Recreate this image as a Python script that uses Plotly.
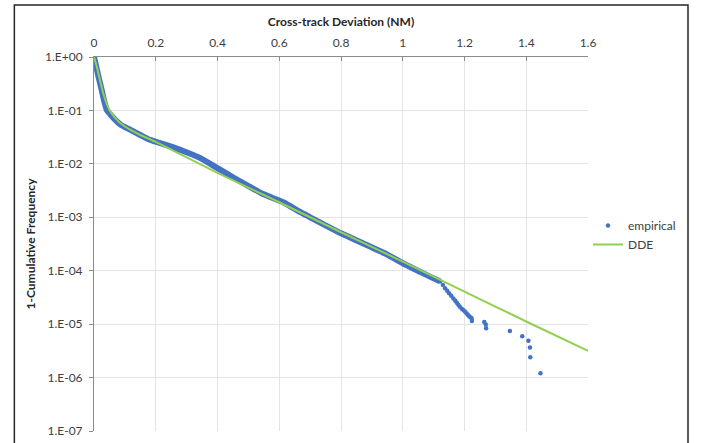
import plotly.graph_objects as go

# Cross-track deviation (NM) vs. exceedance probability
emp_body_x = [0.0, 0.008, 0.017, 0.025, 0.032, 0.042, 0.055, 0.068, 0.087, 0.117,
              0.15, 0.181, 0.24, 0.289, 0.34, 0.397, 0.45, 0.505, 0.55, 0.613,
              0.667, 0.70, 0.80, 0.883, 0.95, 1.0, 1.056, 1.088, 1.121]
emp_body_y = [1.0, 0.631, 0.372, 0.240, 0.158, 0.100, 0.0813, 0.0676, 0.0537, 0.0437,
              0.0347, 0.0282, 0.0219, 0.0174, 0.0132, 0.00851, 0.00562, 0.00372, 0.00269, 0.00191,
              0.00126, 0.00100, 5.01e-4, 3.02e-4, 2.00e-4, 1.38e-4, 9.55e-5, 7.76e-5, 6.31e-5]

emp_tail_x = [1.13, 1.137, 1.144, 1.15, 1.157, 1.164, 1.17, 1.175, 1.18, 1.185, 1.191,
              1.197, 1.202, 1.207, 1.211, 1.215, 1.219, 1.223, 1.224, 1.264, 1.269,
              1.270, 1.347, 1.387, 1.407, 1.412, 1.413, 1.446]
emp_tail_y = [5.4e-5, 4.68e-5, 4.2e-5, 3.80e-5, 3.4e-5, 3.02e-5, 2.75e-5, 2.51e-5, 2.3e-5, 2.11e-5, 1.95e-5,
              1.82e-5, 1.7e-5, 1.58e-5, 1.5e-5, 1.41e-5, 1.35e-5, 1.29e-5, 1.15e-5, 1.10e-5, 9.86e-6,
              8.41e-6, 7.41e-6, 5.96e-6, 4.90e-6, 3.66e-6, 2.40e-6, 1.20e-6]

dde_x = [0.0, 0.01, 0.02, 0.03, 0.04, 0.05, 0.06, 0.07, 0.08, 0.09, 0.10, 0.12, 0.15,
         0.2, 0.4, 0.6, 0.8, 1.0, 1.2, 1.4, 1.6]
dde_y = [1.0, 0.631, 0.355, 0.209, 0.138, 0.102, 0.0832, 0.0708, 0.0617, 0.0550, 0.0501,
         0.0427, 0.0347, 0.0257, 0.00676, 0.00191, 5.25e-4, 1.48e-4, 4.07e-5, 1.12e-5, 3.16e-6]

x_ticks = [0, 0.2, 0.4, 0.6, 0.8, 1.0, 1.2, 1.4, 1.6]
x_tick_text = ["0", "0.2", "0.4", "0.6", "0.8", "1", "1.2", "1.4", "1.6"]
y_ticks = [1e0, 1e-1, 1e-2, 1e-3, 1e-4, 1e-5, 1e-6, 1e-7]
y_tick_text = ["1.E+00", "1.E-01", "1.E-02", "1.E-03", "1.E-04", "1.E-05", "1.E-06", "1.E-07"]

BLUE = "#4472C4"
GREEN = "#92D050"
FONT = "Lato"

# page geometry (pixels)
W, H = 707, 443
FRAME_L, FRAME_T, FRAME_R = 13, 4, 688
PLOT_L, PLOT_R, PLOT_T, PLOT_B = 94, 588, 57, 431

fig = go.Figure()

# dense part of the empirical curve: overlapping points form a solid band
fig.add_trace(go.Scatter(
    x=emp_body_x, y=emp_body_y, mode="lines",
    line=dict(color=BLUE, width=6, shape="spline", smoothing=0.6),
    showlegend=False, legendgroup="emp", hoverinfo="skip"))

fig.add_trace(go.Scatter(
    x=emp_body_x + emp_tail_x, y=emp_body_y + emp_tail_y, mode="markers",
    marker=dict(color=BLUE, size=4.5), name="empirical", legendgroup="emp"))

fig.add_trace(go.Scatter(
    x=dde_x, y=dde_y, mode="lines",
    line=dict(color=GREEN, width=2, shape="spline", smoothing=0.6), name="DDE"))

# the paper area is the chart frame; the plot sits inside it via axis domains
pw = FRAME_R - FRAME_L
ph = H - FRAME_T
x_dom = [(PLOT_L - FRAME_L) / pw, (PLOT_R - FRAME_L) / pw]
y_dom = [(H - PLOT_B) / ph, (H - PLOT_T) / ph]

fig.update_layout(
    width=W, height=H,
    margin=dict(l=FRAME_L, r=W - FRAME_R, t=FRAME_T, b=0, autoexpand=False),
    paper_bgcolor="white", plot_bgcolor="white",
    font=dict(family=FONT, size=12, color="#404040"),
    xaxis=dict(
        domain=x_dom,
        side="top", range=[0, 1.6], tickvals=x_ticks, ticktext=x_tick_text,
        showgrid=True, gridcolor="#e4e4e4", gridwidth=1,
        showline=True, linecolor="#8c8c8c", linewidth=1,
        ticks="inside", ticklen=4, tickcolor="#8c8c8c",
        zeroline=False, ticklabelstandoff=4, automargin=False,
        title=dict(text="<b>Cross-track Deviation (NM)</b>",
                   font=dict(size=12, color="#262626"), standoff=6),
    ),
    yaxis=dict(
        domain=y_dom,
        type="log", range=[-7, 0], tickvals=y_ticks, ticktext=y_tick_text,
        showgrid=True, gridcolor="#e4e4e4", gridwidth=1,
        showline=True, linecolor="#8c8c8c", linewidth=1,
        ticks="outside", ticklen=4, tickcolor="#8c8c8c",
        zeroline=False, ticklabelstandoff=4, automargin=False,
        title=dict(text="<b>1-Cumulative Frequency</b>",
                   font=dict(size=12, color="#262626"), standoff=6),
    ),
    legend=dict(
        x=(PLOT_R - FRAME_L) / pw, y=(H - 235) / ph, xanchor="left", yanchor="middle",
        font=dict(size=12, color="#404040"), bgcolor="rgba(0,0,0,0)",
        itemwidth=30, tracegroupgap=0,
    ),
    # chart frame: left, top and right edges (bottom runs off the page)
    shapes=[dict(
        type="path", xref="paper", yref="paper",
        path="M 0.002,-0.1 L 0.002,0.998 L 1,0.998 L 1,-0.1",
        line=dict(color="#262626", width=1.5), layer="above")],
)

fig.write_html("out.html")
